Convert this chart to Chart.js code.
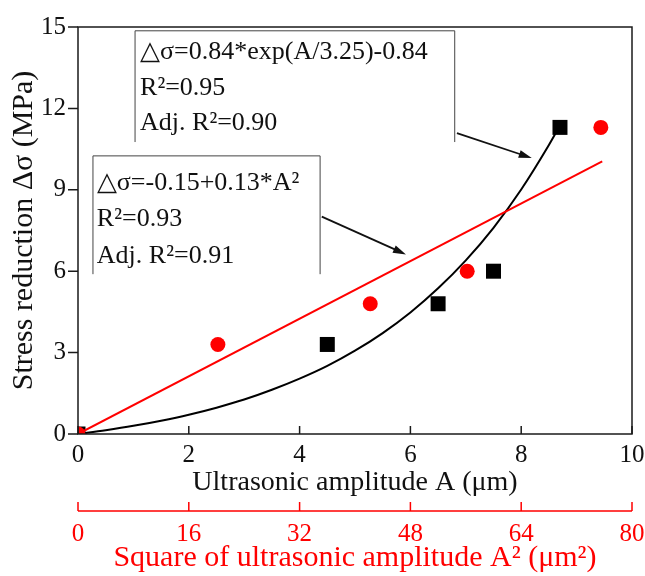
<!DOCTYPE html>
<html><head><meta charset="utf-8">
<script src="https://cdn.jsdelivr.net/npm/chart.js@4/dist/chart.umd.min.js"></script>
<style>html,body{margin:0;padding:0;background:#fff}#wrap{width:645px;height:576px;position:relative}</style>
</head><body><div id="wrap"><canvas id="c"></canvas></div>
<script>
// ---- data ----
const amplitudeA = [0, 4.5, 6.5, 7.5, 8.7];          // µm (black squares, bottom black axis)
const stressA    = [0, 3.3, 4.8, 6.0, 11.3];         // MPa
const amplitudeSq = [0, 20.2, 42.2, 56.2, 75.5];     // µm² (red circles, red axis)
const stressSq    = [0, 3.3, 4.8, 6.0, 11.3];        // MPa
const expCurveA = [0, 0.5, 1, 1.5, 2, 2.5, 3, 3.5, 4, 4.5, 5, 5.5, 6, 6.5, 7, 7.5, 8, 8.5, 8.7];
const expCurveY = [0, 0.14, 0.30, 0.49, 0.71, 0.97, 1.27, 1.63, 2.04, 2.51, 3.07, 3.72, 4.48, 5.37, 6.40, 7.60, 9.01, 10.65, 11.37];
const linFitSq = [0, 75.7];
const linFitY  = [0, 10.05];
const xTicks  = [0, 2, 4, 6, 8, 10];
const x2Ticks = [0, 16, 32, 48, 64, 80];
const yTicks  = [0, 3, 6, 9, 12, 15];
const noteExp = ['\u25B3\u03C3=0.84*exp(A/3.25)-0.84', 'R\u00B2=0.95', 'Adj. R\u00B2=0.90'];
const noteLin = ['\u25B3\u03C3=-0.15+0.13*A\u00B2', 'R\u00B2=0.93', 'Adj. R\u00B2=0.91'];

const FONT = "'Liberation Serif','Times New Roman',serif";
const toPts = (xs, ys) => xs.map((x, i) => ({x, y: ys[i]}));

// annotation geometry in data units (x in µm, y in MPa)
const boxExp = {l: 1.03, t: 14.86, r: 6.80, b: 10.76, tx: 1.12, lines: [14.06, 12.73, 11.45]};
const boxLin = {l: 0.27, t: 10.25, r: 4.37, b: 5.89, tx: 0.34, lines: [9.26, 7.90, 6.55]};
const arrowExp = {x1: 6.84, y1: 11.09, x2: 8.19, y2: 10.17};
const arrowLin = {x1: 4.40, y1: 8.01, x2: 5.92, y2: 6.62};

const decor = {
  id: 'decor',
  afterDatasetsDraw(chart) {
    const {ctx, chartArea: a, scales} = chart;
    const sx = scales.x, sy = scales.y, s2 = scales.x2;
    const X = v => sx.getPixelForValue(v), Y = v => sy.getPixelForValue(v);
    ctx.save();
    // frame
    ctx.strokeStyle = '#1a1a1a'; ctx.lineWidth = 1.5;
    ctx.strokeRect(a.left, a.top, a.right - a.left, a.bottom - a.top);
    ctx.beginPath();
    xTicks.forEach(v => { const p = X(v); ctx.moveTo(p, a.bottom); ctx.lineTo(p, a.bottom - 8); });
    yTicks.forEach(v => { const p = Y(v); ctx.moveTo(a.left, p); ctx.lineTo(a.left - 10, p); });
    ctx.stroke();
    // red axis
    ctx.strokeStyle = '#ff0000'; ctx.lineWidth = 1.5;
    ctx.beginPath();
    ctx.moveTo(s2.left, s2.top); ctx.lineTo(s2.right, s2.top);
    x2Ticks.forEach(v => { const p = s2.getPixelForValue(v); ctx.moveTo(p, s2.top); ctx.lineTo(p, s2.top - 9); });
    ctx.stroke();
    // annotation boxes (open at bottom)
    ctx.strokeStyle = '#444'; ctx.lineWidth = 1;
    [boxExp, boxLin].forEach(b => {
      ctx.beginPath();
      ctx.moveTo(X(b.l), Y(b.b)); ctx.lineTo(X(b.l), Y(b.t)); ctx.lineTo(X(b.r), Y(b.t)); ctx.lineTo(X(b.r), Y(b.b));
      ctx.stroke();
    });
    ctx.fillStyle = '#111'; ctx.font = '26px ' + FONT; ctx.textBaseline = 'middle'; ctx.textAlign = 'left';
    noteExp.forEach((t, i) => ctx.fillText(t, X(boxExp.tx), Y(boxExp.lines[i])));
    noteLin.forEach((t, i) => ctx.fillText(t, X(boxLin.tx), Y(boxLin.lines[i])));
    // arrows
    ctx.strokeStyle = '#111'; ctx.fillStyle = '#111'; ctx.lineWidth = 1.8;
    [arrowExp, arrowLin].forEach(ar => {
      const x1 = X(ar.x1), y1 = Y(ar.y1), x2 = X(ar.x2), y2 = Y(ar.y2);
      const ang = Math.atan2(y2 - y1, x2 - x1), L = 13, W = 4;
      ctx.beginPath(); ctx.moveTo(x1, y1); ctx.lineTo(x2 - L * 0.8 * Math.cos(ang), y2 - L * 0.8 * Math.sin(ang)); ctx.stroke();
      ctx.beginPath();
      ctx.moveTo(x2, y2);
      ctx.lineTo(x2 - L * Math.cos(ang) + W * Math.sin(ang), y2 - L * Math.sin(ang) - W * Math.cos(ang));
      ctx.lineTo(x2 - L * Math.cos(ang) - W * Math.sin(ang), y2 - L * Math.sin(ang) + W * Math.cos(ang));
      ctx.closePath(); ctx.fill();
    });
    ctx.restore();
  }
};

const noPad = s => { s.paddingLeft = 0; s.paddingRight = 0; };

new Chart(document.getElementById('c'), {
  type: 'scatter',
  data: {
    datasets: [
      {label: 'Red circles', data: toPts(amplitudeSq, stressSq), xAxisID: 'x2', pointStyle: 'circle', pointRadius: 7.5,
       backgroundColor: '#ff0000', borderColor: '#ff0000', borderWidth: 0, showLine: false, order: 1},
      {label: 'Linear fit', data: toPts(linFitSq, linFitY), xAxisID: 'x2', showLine: true, pointRadius: 0,
       borderColor: '#ff0000', borderWidth: 2, order: 2},
      {label: 'Black squares', data: toPts(amplitudeA, stressA), xAxisID: 'x', pointStyle: 'rect', pointRadius: 10.6,
       backgroundColor: '#000', borderColor: '#000', borderWidth: 0, showLine: false, order: 3},
      {label: 'Exp fit', data: toPts(expCurveA, expCurveY), xAxisID: 'x', showLine: true, pointRadius: 0,
       borderColor: '#000', borderWidth: 2, cubicInterpolationMode: 'monotone', order: 4}
    ]
  },
  options: {
    responsive: true, maintainAspectRatio: false, animation: false,
    layout: {padding: {top: 24, right: 13, bottom: 0, left: 0}},
    plugins: {legend: {display: false}, tooltip: {enabled: false}},
    scales: {
      x: {
        type: 'linear', position: 'bottom', weight: 0, min: 0, max: 10,
        afterBuildTicks: s => { s.ticks = xTicks.map(v => ({value: v})); },
        afterFit: s => { s.height = 77; noPad(s); },
        grid: {display: false, drawTicks: false}, border: {display: false},
        ticks: {color: '#111', font: {family: FONT, size: 25}, padding: 6, maxRotation: 0},
        title: {display: true, text: 'Ultrasonic amplitude A (\u03BCm)', color: '#111', font: {family: FONT, size: 28}, padding: {top: 0, bottom: 12}}
      },
      x2: {
        type: 'linear', position: 'bottom', weight: 1, min: 0, max: 80,
        afterBuildTicks: s => { s.ticks = x2Ticks.map(v => ({value: v})); },
        afterFit: s => { s.height = 65; noPad(s); },
        grid: {display: false, drawTicks: false}, border: {display: false},
        ticks: {color: '#ff0000', font: {family: FONT, size: 25}, padding: 8, maxRotation: 0},
        title: {display: true, text: 'Square of ultrasonic amplitude A\u00B2 (\u03BCm\u00B2)', color: '#ff0000', font: {family: FONT, size: 30}, padding: {top: 0, bottom: 0}}
      },
      y: {
        type: 'linear', position: 'left', min: 0, max: 15,
        afterBuildTicks: s => { s.ticks = yTicks.map(v => ({value: v})); },
        afterFit: s => { s.width = 78; },
        grid: {display: false, drawTicks: false}, border: {display: false},
        ticks: {color: '#111', font: {family: FONT, size: 25}, padding: 12},
        title: {display: true, text: 'Stress reduction \u0394\u03C3 (MPa)', color: '#111', font: {family: FONT, size: 30}, padding: {top: 6, bottom: 0}}
      }
    }
  },
  plugins: [decor]
});
</script>
</body></html>
